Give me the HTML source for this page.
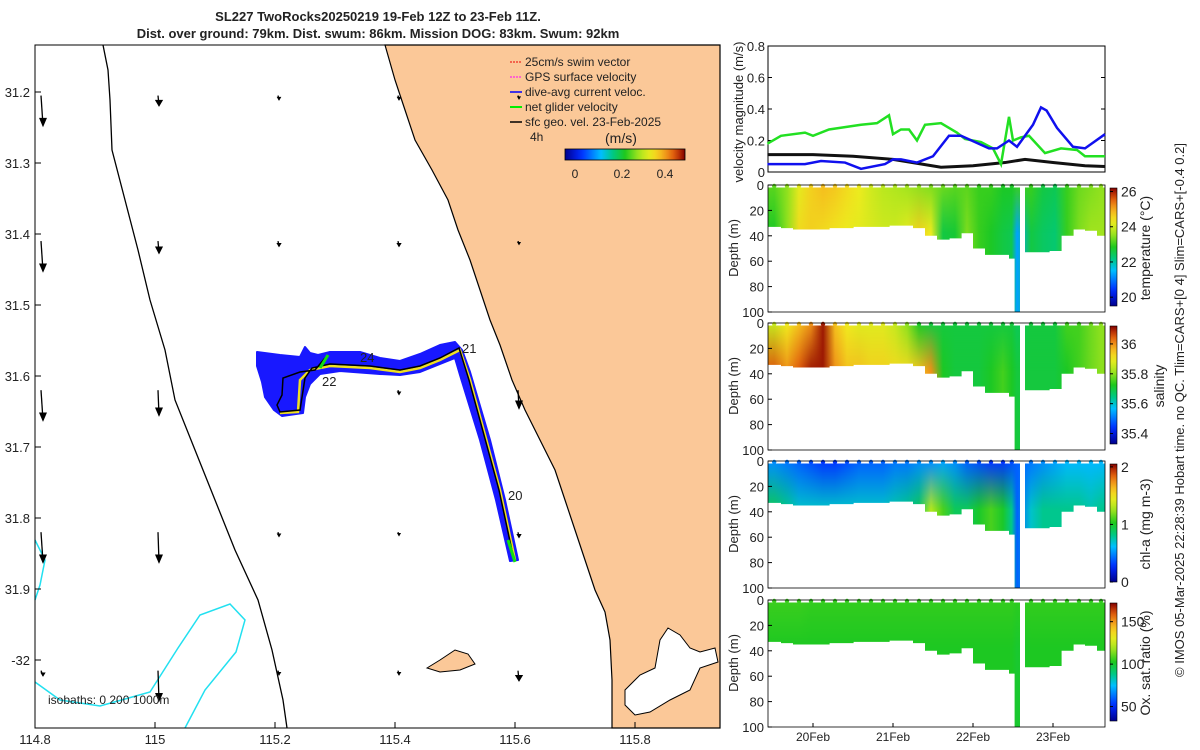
<!DOCTYPE html>
<html><head><meta charset="utf-8"><style>
body{margin:0;background:#fff}
svg{display:block;font-family:"Liberation Sans",sans-serif}
text{fill:#222}
</style></head><body>
<svg id="s" width="1200" height="750" xmlns="http://www.w3.org/2000/svg">
<g font-weight="bold" font-size="13" text-anchor="middle">
<text x="378" y="21">SL227 TwoRocks20250219 19-Feb 12Z to 23-Feb 11Z.</text>
<text x="378" y="38">Dist. over ground: 79km. Dist. swum: 86km. Mission DOG: 83km. Swum: 92km</text>
</g>
<g>
<rect x="35" y="45" width="685" height="683" fill="#fff"/>
<path fill="#fbc898" stroke="#000" stroke-width="1.2" d="M385,45 L395,80 L405,110 L415,140 L432,170 L448,200 L458,230 L470,260 L480,290 L490,320 L500,345 L512,380 L525,410 L540,440 L555,470 L565,500 L575,530 L585,560 L595,590 L605,612 L610,640 L612,680 L612,728 L720,728 L720,45 Z"/>
<path fill="#fff" stroke="#000" stroke-width="1" d="M625,690 L640,675 L655,668 L660,640 L668,628 L680,635 L690,648 L700,652 L715,648 L718,662 L700,668 L690,690 L670,700 L650,712 L635,715 L625,705 Z"/>
<path fill="#fbc898" stroke="#000" stroke-width="1" d="M427,668 L440,660 L455,650 L468,654 L475,664 L460,670 L440,672 Z"/>
<path fill="none" stroke="#000" stroke-width="1.3" d="M103,45 L108,70 L110,100 L112,150 L125,200 L138,250 L150,300 L165,350 L175,400 L195,450 L215,500 L235,550 L258,600 L272,650 L283,700 L287,728"/>
<path fill="none" stroke="#22e0f0" stroke-width="1.5" d="M35,682 L60,700 L100,706 L150,692 L178,648 L200,615 L230,604 L245,620 L236,652 L205,690 L185,728"/>
<path fill="none" stroke="#22e0f0" stroke-width="1.5" d="M35,540 L45,560 L40,585 L35,600"/>
<g id="arrows" stroke="#000" stroke-width="1.3" fill="#000"></g>
<g>
<path fill="#1818ff" stroke="#1818ff" stroke-width="2" stroke-linejoin="round" d="M257,352 L280,355 L300,357 L305,347 L310,353 L318,355 L330,352 L360,352 L380,358 L400,361 L420,354 L440,345 L455,342 L462,350 L470,372 L490,440 L505,500 L518,560 L510,561 L496,500 L480,440 L460,375 L455,358 L440,364 L420,372 L400,375 L380,374 L340,371 L320,374 L310,384 L305,397 L303,413 L282,416 L274,410 L265,397 L262,382 L257,366 Z"/>
<path fill="none" stroke="#f0e020" stroke-width="2.5" d="M515,560 L500,490 L470,380 L460,350 L440,360 L420,368 L400,372 L370,368 L330,366 L310,370 L300,380 L298,412 L280,413"/>
<path fill="none" stroke="#000" stroke-width="1.5" d="M514,560 L499,490 L469,380 L459,348 L440,358 L420,366 L400,370 L370,366 L330,364 L312,368 L305,378 L300,410 L280,412 L277,405 L282,395 L283,378 L300,372 L315,370 L325,358"/>
<path fill="none" stroke="#10e010" stroke-width="3" d="M515,562 L508,540 M328,355 L320,368"/>
<text x="462" y="353" font-size="13">21</text><text x="360" y="362" font-size="13">24</text>
<text x="322" y="386" font-size="13">22</text><text x="508" y="500" font-size="13">20</text>
</g>
<g font-size="12">
<line x1="510" y1="62" x2="522" y2="62" stroke="#e00" stroke-dasharray="2,1"/><text x="525" y="66">25cm/s swim vector</text>
<line x1="510" y1="77" x2="522" y2="77" stroke="#f0f" stroke-dasharray="2,1"/><text x="525" y="81">GPS surface velocity</text>
<line x1="510" y1="92" x2="522" y2="92" stroke="#00f" stroke-width="1.5"/><text x="525" y="96">dive-avg current veloc.</text>
<line x1="510" y1="107" x2="522" y2="107" stroke="#0e0" stroke-width="2"/><text x="525" y="111">net glider velocity</text>
<line x1="510" y1="122" x2="522" y2="122" stroke="#000" stroke-width="1.5"/><text x="525" y="126">sfc geo. vel. 23-Feb-2025</text>
<text x="530" y="141">4h</text><text x="605" y="143" font-size="14">(m/s)</text>
<rect x="565" y="149" width="120" height="11" fill="url(#cbh)" stroke="#000" stroke-width="0.8"/>
<text x="575" y="178" text-anchor="middle">0</text><text x="622" y="178" text-anchor="middle">0.2</text><text x="665" y="178" text-anchor="middle">0.4</text>
</g>
<text x="48" y="704" font-size="12">isobaths: 0   200  1000m</text>
<rect x="35" y="45" width="685" height="683" fill="none" stroke="#000" stroke-width="1"/>
<g id="mapticks" font-size="13"></g>
</g>
<defs id="defs"></defs>
<g id="right"></g>
<text transform="translate(1184,410) rotate(-90)" text-anchor="middle" font-size="13">© IMOS 05-Mar-2025 22:28:39 Hobart time. no QC. Tlim=CARS+[0 4] Slim=CARS+[-0.4 0.2]</text>
</svg>
<script>
// ---- velocity series data ----
const greenT=[19.43,19.6,19.9,20.0,20.2,20.6,20.8,20.95,21.0,21.1,21.2,21.3,21.4,21.6,21.8,21.9,22.1,22.25,22.35,22.45,22.5,22.6,22.7,22.9,23.1,23.3,23.4,23.65];
const greenV=[0.18,0.23,0.25,0.23,0.27,0.3,0.31,0.36,0.24,0.27,0.27,0.2,0.3,0.31,0.25,0.21,0.19,0.15,0.05,0.35,0.2,0.22,0.23,0.12,0.15,0.14,0.1,0.1];
const blueT=[19.43,19.9,20.1,20.4,20.6,20.9,21.0,21.1,21.3,21.5,21.7,21.85,22.2,22.3,22.45,22.55,22.75,22.85,22.92,23.05,23.25,23.4,23.65];
const blueV=[0.05,0.05,0.07,0.06,0.02,0.05,0.08,0.08,0.06,0.1,0.23,0.23,0.15,0.15,0.2,0.16,0.3,0.41,0.39,0.28,0.16,0.15,0.24];
const blackT=[19.43,20.0,20.5,21.0,21.6,22.0,22.4,22.65,23.0,23.4,23.65];
const blackV=[0.11,0.11,0.1,0.08,0.03,0.04,0.06,0.08,0.06,0.04,0.035];
// ---- section data ----
const secT=[19.43,19.6,19.75,19.9,20.05,20.2,20.35,20.5,20.65,20.8,20.95,21.1,21.25,21.4,21.55,21.7,21.85,22.0,22.15,22.3,22.45,22.52,22.58,22.65,22.8,22.95,23.1,23.25,23.4,23.55];
const secEnd=23.65;
const maxDepth=[33,34,35,35,35,34,34,33,33,33,32,32,34,40,43,42,38,50,55,55,58,100,0,53,53,52,40,35,36,40];
const tempTop=[23.2,23.5,24.2,24.6,24.8,24.7,24.5,24.3,24,23.8,23.7,23.6,23.5,23.4,23.3,23.2,23.2,23.0,23.0,22.8,22.8,23.0,0,23.0,22.6,22.5,23.0,23.3,23.4,23.5];
const tempBot=[22.8,23.5,24.5,24.6,24.5,24.4,24.3,24.2,24.1,24.0,24.0,24.2,24.6,24.3,22.6,22.7,23.4,23,22.8,22.6,22.5,21.3,0,22.6,22.4,22.3,23,23.4,23.6,23.6];
const salTop=[35.85,35.9,35.95,36.0,36.1,35.95,35.9,35.88,35.88,35.88,35.85,35.8,35.72,35.7,35.7,35.7,35.7,35.7,35.7,35.7,35.7,35.68,0,35.7,35.7,35.7,35.75,35.75,35.78,35.8];
const salBot=[36.05,36.0,36.05,36.1,36.1,36.0,35.95,35.95,35.93,35.93,35.92,35.92,35.95,36.0,35.72,35.7,35.7,35.7,35.72,35.75,35.72,35.7,0,35.7,35.7,35.7,35.72,35.75,35.78,35.8];
const chlTop=[0.5,0.45,0.4,0.35,0.3,0.3,0.35,0.4,0.4,0.4,0.45,0.45,0.5,0.5,0.55,0.5,0.4,0.35,0.3,0.3,0.35,0.4,0,0.45,0.5,0.55,0.6,0.6,0.6,0.6];
const chlBot=[0.9,0.8,0.7,0.7,0.7,0.7,0.7,0.7,0.7,0.7,0.75,0.8,0.9,1.3,1.1,0.9,0.9,1.0,1.1,1.0,0.8,0.4,0,0.7,0.8,0.8,0.8,0.8,0.75,0.8];
const oxTop=[106,106,106,105,105,105,105,105,105,105,105,105,105,105,105,105,105,105,105,105,105,104,0,105,105,105,105,105,105,105];
const oxBot=[102,102,102,102,102,102,102,102,102,102,102,102,102,102,102,102,102,102,102,102,102,100,0,102,102,102,102,102,102,102];
const dayTicks=["20Feb","21Feb","22Feb","23Feb"];
const dayVals=[20,21,22,23];
const lonTicks=["114.8","115","115.2","115.4","115.6","115.8"];
const lonVals=[114.8,115,115.2,115.4,115.6,115.8];
const latTicks=["31.2","31.3","31.4","31.5","31.6","31.7","31.8","31.9","-32"];
const latVals=[31.2,31.3,31.4,31.5,31.6,31.7,31.8,31.9,32.0];
const arrowLon=[114.81,115.005,115.205,115.405,115.605];
const arrowLat=[31.205,31.41,31.62,31.82,32.015];
// arrow length (px) per lat row, per lon column
const arrowLen=[[30,10,4,4,3],[30,12,5,5,3],[30,25,4,4,18],[30,30,4,3,5],[5,30,4,4,10]];

const NS='http://www.w3.org/2000/svg';
const svg=document.getElementById('s');
function mk(tag,attrs,parent){const e=document.createElementNS(NS,tag);for(const k in attrs)e.setAttribute(k,attrs[k]);(parent||svg).appendChild(e);return e;}
const stops=[[0,[0,0,140]],[0.13,[0,40,255]],[0.3,[0,190,255]],[0.4,[0,200,130]],[0.5,[30,200,30]],[0.62,[170,230,30]],[0.72,[240,235,30]],[0.82,[245,170,30]],[0.92,[220,80,10]],[1,[128,0,0]]];
function cmap(f){f=Math.max(0,Math.min(1,f));for(let i=1;i<stops.length;i++){if(f<=stops[i][0]){const a=stops[i-1],b=stops[i],u=(f-a[0])/(b[0]-a[0]);return 'rgb('+a[1].map((c,j)=>Math.round(c+(b[1][j]-c)*u)).join(',')+')';}}return 'rgb(128,0,0)';}
const defs=document.getElementById('defs');
const gh=mk('linearGradient',{id:'cbh',x1:0,x2:1,y1:0,y2:0},defs);
const gv=mk('linearGradient',{id:'cbv',x1:0,x2:0,y1:1,y2:0},defs);
for(let i=0;i<=20;i++){mk('stop',{offset:i/20,'stop-color':cmap(i/20)},gh);mk('stop',{offset:i/20,'stop-color':cmap(i/20)},gv);}
// fade mask for blending top/bottom layers
const fg=mk('linearGradient',{id:'fade',x1:0,x2:0,y1:0,y2:1},defs);
mk('stop',{offset:0,'stop-color':'#fff'},fg);mk('stop',{offset:1,'stop-color':'#000'},fg);

// ---- map axes ----
const lonX=v=>35+(v-114.8)*600, latY=v=>92+(v-31.2)*710;
const mt=document.getElementById('mapticks');
lonVals.forEach((v,i)=>{mk('line',{x1:lonX(v),x2:lonX(v),y1:728,y2:722,stroke:'#000'},mt);const t=mk('text',{x:lonX(v),y:744,'text-anchor':'middle'},mt);t.textContent=lonTicks[i];

});
latVals.forEach((v,i)=>{mk('line',{x1:35,x2:41,y1:latY(v),y2:latY(v),stroke:'#000'},mt);const t=mk('text',{x:30,y:latY(v)+5,'text-anchor':'end'},mt);t.textContent=latTicks[i];

});
const ag=document.getElementById('arrows');
arrowLat.forEach((la,j)=>arrowLon.forEach((lo,i)=>{const x=lonX(lo),y=latY(la),L=arrowLen[j][i];const dx=i==0?2:1;
const g=mk('g',{},ag);


const h=Math.min(7,L*0.5),w=Math.min(3,L*0.3);
mk('line',{x1:x,y1:y,x2:x+dx,y2:y+L},g);mk('path',{d:`M${x+dx-w},${y+L-h} L${x+dx},${y+L} L${x+dx+w},${y+L-h} Z`},g);}));

// ---- right panels ----
const R=document.getElementById('right');
const X0=768,X1=1105;const tx=t=>813+(t-20)*80;
const vp=mk('g',{},R);


const vy=v=>172-v*157.5;
mk('rect',{x:X0,y:46,width:X1-X0,height:126,fill:'#fff',stroke:'#000'},vp);
[0,0.2,0.4,0.6,0.8].forEach(v=>{mk('line',{x1:X0,x2:X0+4,y1:vy(v),y2:vy(v),stroke:'#000'},vp);mk('line',{x1:X1,x2:X1-4,y1:vy(v),y2:vy(v),stroke:'#000'},vp);const t=mk('text',{x:765,y:vy(v)+5,'text-anchor':'end','font-size':13},vp);t.textContent=v;});
const vl=mk('text',{transform:'translate(743,112) rotate(-90)','text-anchor':'middle','font-size':13},vp);vl.textContent='velocity magnitude (m/s)';
function line(T,V,col,w,name){const p=mk('path',{d:T.map((t,i)=>(i?'L':'M')+tx(t)+','+vy(V[i])).join(' '),fill:'none',stroke:col,'stroke-width':w},vp);

}
line(blackT,blackV,'#111',3,'sfc-geo-velocity-line');
line(greenT,greenV,'#22e022',2.5,'net-glider-velocity-line');
line(blueT,blueV,'#1010ee',2.5,'dive-avg-current-line');

const panels=[
 {name:'temperature',top:185,top_:tempTop,bot:tempBot,min:19.5,max:26.2,ticks:[20,22,24,26],label:'temperature (°C)',lx:1150},
 {name:'salinity',top:323,top_:salTop,bot:salBot,min:35.33,max:36.12,ticks:[35.4,35.6,35.8,36],label:'salinity',lx:1164},
 {name:'chl-a',top:461,top_:chlTop,bot:chlBot,min:0,max:2.05,ticks:[0,1,2],label:'chl-a (mg m-3)',lx:1150},
 {name:'oxygen',top:600,top_:oxTop,bot:oxBot,min:33,max:172,ticks:[50,100,150],label:'Ox. sat. ratio (%)',lx:1150}];
panels.forEach((P,pi)=>{
 const g=mk('g',{},R);
 
 
 const H=127,dy=d=>P.top+d/100*H,f=v=>(v-P.min)/(P.max-P.min);
 mk('rect',{x:X0,y:P.top,width:X1-X0,height:H,fill:'#fff'},g);
 // clip path from profile depth
 const cp=mk('clipPath',{id:'clip'+pi},defs);
 secT.forEach((t,i)=>{if(!maxDepth[i])return;const x1=tx(t),x2=tx(i+1<secT.length?secT[i+1]:secEnd);
  mk('rect',{x:x1,y:dy(2),width:x2-x1+0.6,height:dy(maxDepth[i])-dy(2)},cp);});
 // horizontal gradients for top and bottom layers
 const gt=mk('linearGradient',{id:'gt'+pi,gradientUnits:'userSpaceOnUse',x1:X0,x2:X1,y1:0,y2:0},defs);
 const gb=mk('linearGradient',{id:'gb'+pi,gradientUnits:'userSpaceOnUse',x1:X0,x2:X1,y1:0,y2:0},defs);
 secT.forEach((t,i)=>{if(!maxDepth[i])return;const nx=i+1<secT.length?secT[i+1]:secEnd;const off=((tx(t)+tx(nx))/2-X0)/(X1-X0);
  mk('stop',{offset:off,'stop-color':cmap(f(P.top_[i]))},gt);mk('stop',{offset:off,'stop-color':cmap(f(P.bot[i]))},gb);});
 const mask=mk('mask',{id:'mask'+pi},defs);
 mk('rect',{x:X0,y:dy(0),width:X1-X0,height:dy(38)-dy(0),fill:'url(#fade)'},mask);
 const cg=mk('g',{'clip-path':`url(#clip${pi})`},g);
 const rb=mk('rect',{x:X0,y:P.top,width:X1-X0,height:H,fill:`url(#gb${pi})`},cg);
 
 
 const rt=mk('rect',{x:X0,y:P.top,width:X1-X0,height:H,fill:`url(#gt${pi})`,mask:`url(#mask${pi})`},cg);
 
 
 secT.forEach((t,i)=>{if(!maxDepth[i]||maxDepth[i]>90)return;const x1=tx(t),x2=tx(i+1<secT.length?secT[i+1]:secEnd);
  const c=mk('circle',{cx:(x1+x2)/2,cy:P.top+1,r:2.2,fill:cmap(f(P.top_[i]))},g);
  
  });
 mk('rect',{x:X0,y:P.top,width:X1-X0,height:H,fill:'none',stroke:'#000','stroke-width':0.8},g);
 [0,20,40,60,80,100].forEach(d=>{mk('line',{x1:X0,x2:X0+4,y1:dy(d),y2:dy(d),stroke:'#000'},g);const t=mk('text',{x:764,y:dy(d)+5,'text-anchor':'end','font-size':13},g);t.textContent=d;});
 const dl=mk('text',{transform:`translate(738,${P.top+63}) rotate(-90)`,'text-anchor':'middle','font-size':13},g);dl.textContent='Depth (m)';
 const cb0=P.top+3,cb1=P.top+H-6;
 mk('rect',{x:1110,y:cb0,width:7,height:cb1-cb0,fill:'url(#cbv)',stroke:'#000','stroke-width':0.6},g);
 P.ticks.forEach(v=>{const y=cb1-f(v)*(cb1-cb0);mk('line',{x1:1110,x2:1113,y1:y,y2:y,stroke:'#000'},g);const t=mk('text',{x:1121,y:y+5,'font-size':14},g);t.textContent=v;});
 const cl=mk('text',{transform:`translate(${P.lx},${P.top+63}) rotate(-90)`,'text-anchor':'middle','font-size':14},g);cl.textContent=P.label;
});
dayVals.forEach((d,i)=>{mk('line',{x1:tx(d),x2:tx(d),y1:727,y2:723,stroke:'#000'},R);const t=mk('text',{x:tx(d),y:741,'text-anchor':'middle','font-size':12},R);t.textContent=dayTicks[i];

});
</script>
</body></html>
